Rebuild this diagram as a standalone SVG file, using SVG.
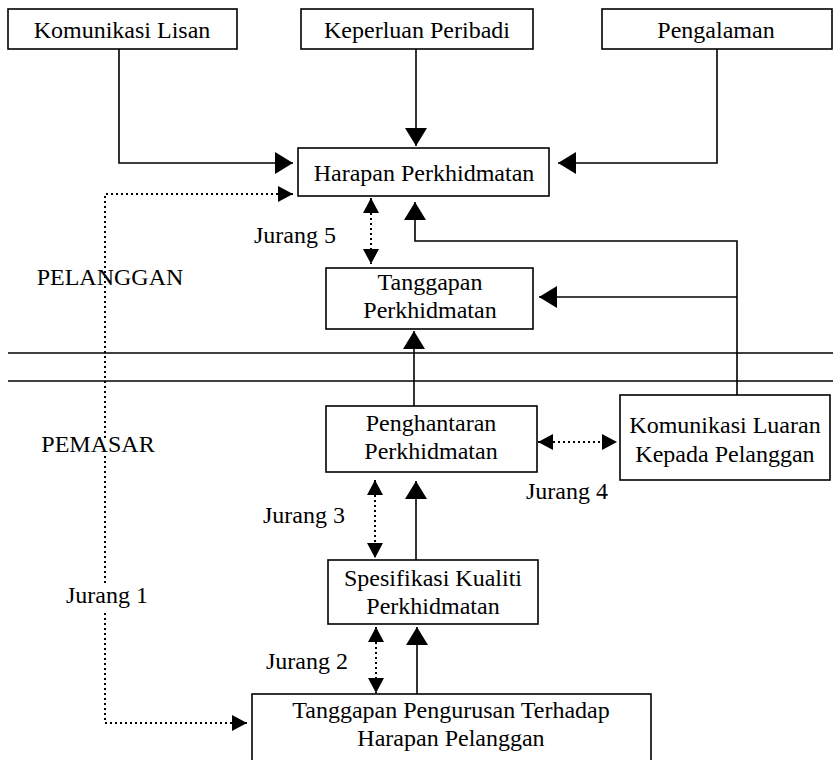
<svg xmlns="http://www.w3.org/2000/svg" width="833" height="760" viewBox="0 0 833 760">
<style>
.box{fill:#fff;stroke:#000;stroke-width:1.6}
.t{font-family:"Liberation Serif","Times New Roman",serif;font-size:24px;fill:#000;text-anchor:middle}
.ln{fill:none;stroke:#000;stroke-width:1.6}
.dot{fill:none;stroke:#000;stroke-width:2;stroke-dasharray:2 3}
.sep{fill:none;stroke:#000;stroke-width:1.6}
</style>
<defs>
<marker id="ah" markerUnits="userSpaceOnUse" markerWidth="20" markerHeight="24" refX="18" refY="11" orient="auto">
<path d="M0,0 L18,11 L0,22 z" fill="#000"/>
</marker>
<marker id="ad" markerUnits="userSpaceOnUse" markerWidth="17" markerHeight="18" refX="15" refY="8" orient="auto-start-reverse">
<path d="M0,0 L15,8 L0,16 z" fill="#000"/>
</marker>
</defs>
<rect width="833" height="760" fill="#fff"/>
<g id="separators">
<line class="sep" x1="8" y1="353" x2="833" y2="353"/>
<line class="sep" x1="8" y1="381" x2="833" y2="381"/>
</g>
<g id="connectors">
<polyline class="ln" points="119,49 119,163 293,163" marker-end="url(#ah)"/>
<polyline class="ln" points="416,49 416,146" marker-end="url(#ah)"/>
<polyline class="ln" points="717,49 717,163 558,163" marker-end="url(#ah)"/>
<polyline class="ln" points="737,395 737,241 415,241 415,202" marker-end="url(#ah)"/>
<polyline class="ln" points="737,297 539,297" marker-end="url(#ah)"/>
<polyline class="ln" points="414,406 414,331" marker-end="url(#ah)"/>
<polyline class="ln" points="416,560 416,481" marker-end="url(#ah)"/>
<polyline class="ln" points="417,694 417,627" marker-end="url(#ah)"/>
<line class="dot" x1="371" y1="198" x2="371" y2="264" marker-start="url(#ad)" marker-end="url(#ad)"/>
<line class="dot" x1="375" y1="480" x2="375" y2="558" marker-start="url(#ad)" marker-end="url(#ad)"/>
<line class="dot" x1="376" y1="627" x2="376" y2="693" marker-start="url(#ad)" marker-end="url(#ad)"/>
<line class="dot" x1="538" y1="442" x2="617" y2="442" marker-start="url(#ad)" marker-end="url(#ad)"/>
<polyline class="dot" points="105,438 105,194 293,194" marker-end="url(#ad)"/>
<line class="dot" x1="105" y1="456" x2="105" y2="585"/>
<polyline class="dot" points="105,613 105,723 247,723" marker-end="url(#ad)"/>
</g>
<g id="n-komunikasi-lisan"><rect class="box" x="8" y="9" width="229" height="40"/><text class="t" x="122" y="38">Komunikasi Lisan</text></g>
<g id="n-keperluan-peribadi"><rect class="box" x="301" y="9" width="232" height="40"/><text class="t" x="417" y="38">Keperluan Peribadi</text></g>
<g id="n-pengalaman"><rect class="box" x="602" y="9" width="230" height="40"/><text class="t" x="716" y="38">Pengalaman</text></g>
<g id="n-harapan"><rect class="box" x="298" y="148" width="251" height="48"/><text class="t" x="424" y="181">Harapan Perkhidmatan</text></g>
<g id="n-tanggapan"><rect class="box" x="326" y="268" width="207" height="61"/><text class="t" x="430" y="290">Tanggapan</text><text class="t" x="430" y="318">Perkhidmatan</text></g>
<g id="n-penghantaran"><rect class="box" x="326" y="406" width="211" height="66"/><text class="t" x="431" y="431">Penghantaran</text><text class="t" x="431" y="459">Perkhidmatan</text></g>
<g id="n-komunikasi-luaran"><rect class="box" x="620" y="395" width="210" height="85"/><text class="t" x="725" y="433">Komunikasi Luaran</text><text class="t" x="725" y="462">Kepada Pelanggan</text></g>
<g id="n-spesifikasi"><rect class="box" x="328" y="560" width="210" height="64"/><text class="t" x="433" y="586">Spesifikasi Kualiti</text><text class="t" x="433" y="614">Perkhidmatan</text></g>
<g id="n-tanggapan-pengurusan"><rect class="box" x="252" y="694" width="399" height="72"/><text class="t" x="451" y="718">Tanggapan Pengurusan Terhadap</text><text class="t" x="451" y="746">Harapan Pelanggan</text></g>
<g id="labels">
<text class="t" x="110" y="285">PELANGGAN</text>
<text class="t" x="98" y="452">PEMASAR</text>
<text class="t" x="295" y="243">Jurang 5</text>
<text class="t" x="567" y="499">Jurang 4</text>
<text class="t" x="304" y="523">Jurang 3</text>
<text class="t" x="107" y="603">Jurang 1</text>
<text class="t" x="307" y="669">Jurang 2</text>
</g>
</svg>
